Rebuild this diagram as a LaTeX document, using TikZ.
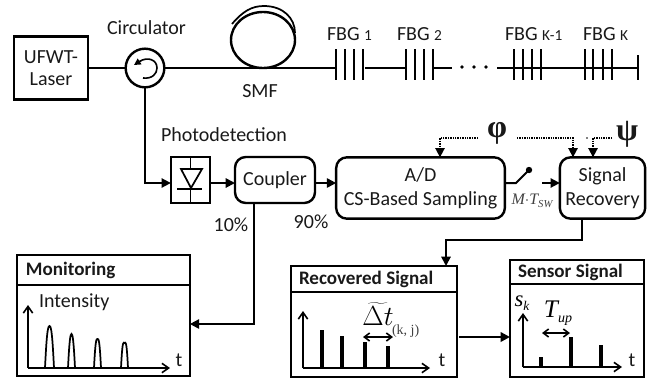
\documentclass[tikz,border=0pt]{standalone}
\usepackage{fontspec}
\setmainfont{Carlito}
\newfontfamily\serifit{Liberation Serif}
\usetikzlibrary{arrows.meta}
\tikzset{
  x=0.75pt,y=-0.75pt,
  every node/.style={inner sep=0pt,outer sep=0pt,align=center,text=black!90,font=\fontsize{15}{18}\selectfont},
  fiber/.style={line width=1.7pt},
  link/.style={line width=1.4pt,-{Triangle[length=7pt,width=7pt]}},
  dots/.style={line width=1.3pt,dash pattern=on 1pt off 0.8pt,-{Triangle[length=7pt,width=7pt]}},
  thinax/.style={line width=1.2pt,-{Straight Barb[length=5pt,width=7pt]}},
  dbl/.style={line width=1.2pt,{Straight Barb[length=4pt,width=6pt]}-{Straight Barb[length=4pt,width=6pt]}},
  sq/.style={draw,line width=1.8pt},
  rbox/.style={draw,line width=1.8pt,rounded corners=8pt},
  grating/.style={line width=2.2pt},
  bar/.style={line width=2.9pt},
  pulse/.style={line width=1.3pt},
  head/.style={font=\bfseries\fontsize{14.3}{17}\selectfont,anchor=west}
}
\begin{document}
\begin{tikzpicture}
\useasboundingbox (0,0) rectangle (659,383);
% top row
\node[sq,minimum width=55.5pt,minimum height=47.5pt] (ufwt) at (51,68) {UFWT-\\[-1pt]Laser};
\node[draw,circle,line width=1.8pt,minimum size=29pt] (circ) at (145,68) {};
\node[anchor=center] (circlabel) at (146.5,27.5) {Circulator};
\draw[line width=1.8pt] (263,40) ellipse [x radius=32,y radius=28];
\draw[line width=1.3pt] (232,24) .. controls (243,11) and (252,6) .. (264,6) .. controls (283,6) and (295,18) .. (295,33);
\node (smflabel) at (260,91) {SMF};
\draw[-{Triangle[length=5pt,width=5pt]},line width=1.2pt] (143,78) .. controls (152,79) and (157,74) .. (157,68) .. controls (157,60) and (148,56) .. (134,65);
\foreach \n/\x in {a1/336,a2/345,a3/354,a4/363,b1/406,b2/415,b3/424,b4/433,c1/514,c2/523,c3/532,c4/541,d1/585,d2/593,d3/603,d4/612}{
  \coordinate (\n) at (\x,68);
  \draw[grating] (\x,49) -- (\x,80);
}
\coordinate (endb) at (638,68);
\draw[grating] (638,55) -- (638,80);
\coordinate (gapa) at (452,68); \coordinate (gapb) at (497,68); \coordinate (a5) at (365,68);
\draw[fiber] (ufwt) -- (circ);
\draw[fiber] (circ) -- (a1);
\draw[fiber] (a5) -- (b1);
\draw[fiber] (b4) -- (gapa);
\draw[fiber] (gapb) -- (c1);
\draw[fiber] (c1) -- (endb);
\fill (462,67) circle (1.8) (474,67) circle (1.8) (486,67) circle (1.8);
\node[anchor=west] (f1) at (327,34) {FBG {\fontsize{11.5}{13}\selectfont 1}};
\node[anchor=west] (f2) at (397,34) {FBG {\fontsize{11.5}{13}\selectfont 2}};
\node[anchor=west] (f3) at (505,34) {FBG {\fontsize{11.5}{13}\selectfont K-1}};
\node[anchor=west] (f4) at (583,34) {FBG {\fontsize{11.5}{13}\selectfont K}};
% middle row
\node[anchor=west] (pdlabel) at (161,135) {Photodetection};
\node[draw,line width=1.5pt,minimum width=29.5pt,minimum height=34.5pt] (pd) at (190.5,180) {};
\draw[line width=1.3pt] (pd.north) -- (190.5,169) (190.5,189) -- (pd.south);
\draw[line width=1.3pt] (181,169) -- (202,169) -- (191,188) -- cycle;
\draw[line width=1.8pt] (177,189) -- (202,189);
\node[rbox,minimum width=60pt,minimum height=34.5pt] (coupler) at (275,180) {Coupler};
\node[rbox,minimum width=126.5pt,minimum height=46pt] (ad) at (420.5,188) {A/D\\CS-Based Sampling};
\node[rbox,minimum width=64pt,minimum height=46pt] (sr) at (602.5,188) {Signal\\Recovery};
\coordinate (turn) at (145,183);
\draw[link] (circ.south) -- (turn) -- (pd.west |- turn);
\draw[link] (pd.east |- turn) -- (coupler.west |- turn);
\draw[link] (coupler.east |- turn) -- (ad.west |- turn);
\node (p10) at (231,225) {10\%};
\node (p90) at (311,222) {90\%};
\coordinate (sw1) at (516,183); \coordinate (sw2) at (529,170);
\draw[line width=1.5pt] (ad.east |- sw1) -- (sw1) -- (sw2);
\fill (sw2) circle (3.2);
\coordinate (swout) at (542,183);
\draw[link] (swout) -- (sr.west |- swout);
\node[font=\serifit\itshape\fontsize{12}{14}\selectfont,text=black!75] (mt) at (532,201) {M$\cdot$T\raisebox{-2.5pt}{\fontsize{8}{9}\selectfont SW}};
\node[font=\serifit\bfseries\fontsize{24}{26}\selectfont] (phi) at (497,133) {φ};
\node[font=\serifit\bfseries\fontsize{24}{26}\selectfont] (psi) at (627,134) {ψ};
\coordinate (pa) at (478,138); \coordinate (pc) at (440,138);
\coordinate (pb) at (517,138); \coordinate (pd2) at (573,138);
\coordinate (qa) at (612,138); \coordinate (qb) at (593,138);
\draw[dots] (pa) -- (pc) -- (pc |- ad.north);
\draw[dots] (pb) -- (pd2) -- (pd2 |- sr.north);
\draw[dots] (qa) -- (qb) -- (qb |- sr.north);
\fill (587,138) circle (0.8);
% monitoring
\node[sq,minimum width=129.5pt,minimum height=90.5pt] (mon) at (103.5,315.5) {};
\draw[line width=1.8pt] (mon.west |- 0,285) -- (mon.east |- 0,285);
\node[head] (monlabel) at (26,270) {Monitoring};
\node[anchor=west] (intens) at (39,302) {Intensity};
\coordinate (m0) at (28,368); \coordinate (my) at (28,305); \coordinate (mx) at (170,368);
\draw[thinax] (m0) -- (my);
\draw[thinax] (m0) -- (mx);
\node (mt1) at (179,360) {t};
\foreach \l/\r/\t in {45/54/326,68/75/334,94/101/339,121/128/343}{
  \draw[pulse] (\l,368) .. controls ({\l+1.5},338) and ({\l+2.5},\t) .. ({(\l+\r)/2},\t) .. controls ({\r-2.5},\t) and ({\r-1.5},338) .. (\r,368);
}
\coordinate (cd) at (254,324);
\draw[link] (coupler.south -| cd) -- (cd) -- (mon.east |- cd);
% recovered
\node[sq,minimum width=124.5pt,minimum height=83.25pt] (rec) at (374,321.5) {};
\draw[line width=1.8pt] (rec.west |- 0,292) -- (rec.east |- 0,292);
\node[head] (reclabel) at (299,279) {Recovered Signal};
\coordinate (r0) at (303,368);
\coordinate (ry) at (303,311); \coordinate (rx) at (430,368);
\draw[thinax] (r0) -- (ry);
\draw[thinax] (r0) -- (rx);
\node (rt) at (442,360) {t};
\foreach \x/\t in {322/330,342/336,365/342,388/346}{ \draw[bar] (\x,368) -- (\x,\t); }
\coordinate (da) at (363,337); \coordinate (db) at (393,337);
\draw[dbl] (da) -- (db);
\node[text=black] (dt) at (378,314) {\fontsize{21}{24}\selectfont$\widetilde{\Delta t}$};
\node[font=\serifit\fontsize{10.5}{12}\selectfont,text=black!75,anchor=west] (kj) at (392,331) {(k, j)};
% sensor
\node[sq,minimum width=100.5pt,minimum height=87.75pt] (sens) at (577,318.5) {};
\draw[line width=1.8pt] (sens.west |- 0,284) -- (sens.east |- 0,284);
\node[head] (senslabel) at (518,272) {Sensor Signal};
\coordinate (s0) at (523,367);
\coordinate (sy) at (523,313); \coordinate (sx) at (622,367);
\draw[thinax] (s0) -- (sy);
\draw[thinax] (s0) -- (sx);
\node (st) at (632,360) {t};
\foreach \x/\t in {541/357,571/337,601/345}{ \draw[bar] (\x,367) -- (\x,\t); }
\coordinate (ea) at (542,333); \coordinate (eb) at (570,333);
\draw[dbl] (ea) -- (eb);
\node[font=\serifit\itshape\fontsize{17}{19}\selectfont,text=black] (sk) at (522,303) {s\raisebox{-3pt}{\fontsize{10}{11}\selectfont k}};
\node[font=\serifit\itshape\fontsize{19}{21}\selectfont,text=black] (tup) at (558,313) {T\raisebox{-4pt}{\fontsize{10.5}{12}\selectfont up}};
% links between boxes
\coordinate (ra) at (582,240); \coordinate (rb) at (446,240);
\draw[link] (sr.south -| ra) -- (ra) -- (rb) -- (rec.north -| rb);
\coordinate (rs) at (459,337);
\draw[line width=1.9pt,-{Triangle[length=7pt,width=7pt]}] (rs) -- (sens.west |- rs);
\end{tikzpicture}
\end{document}
